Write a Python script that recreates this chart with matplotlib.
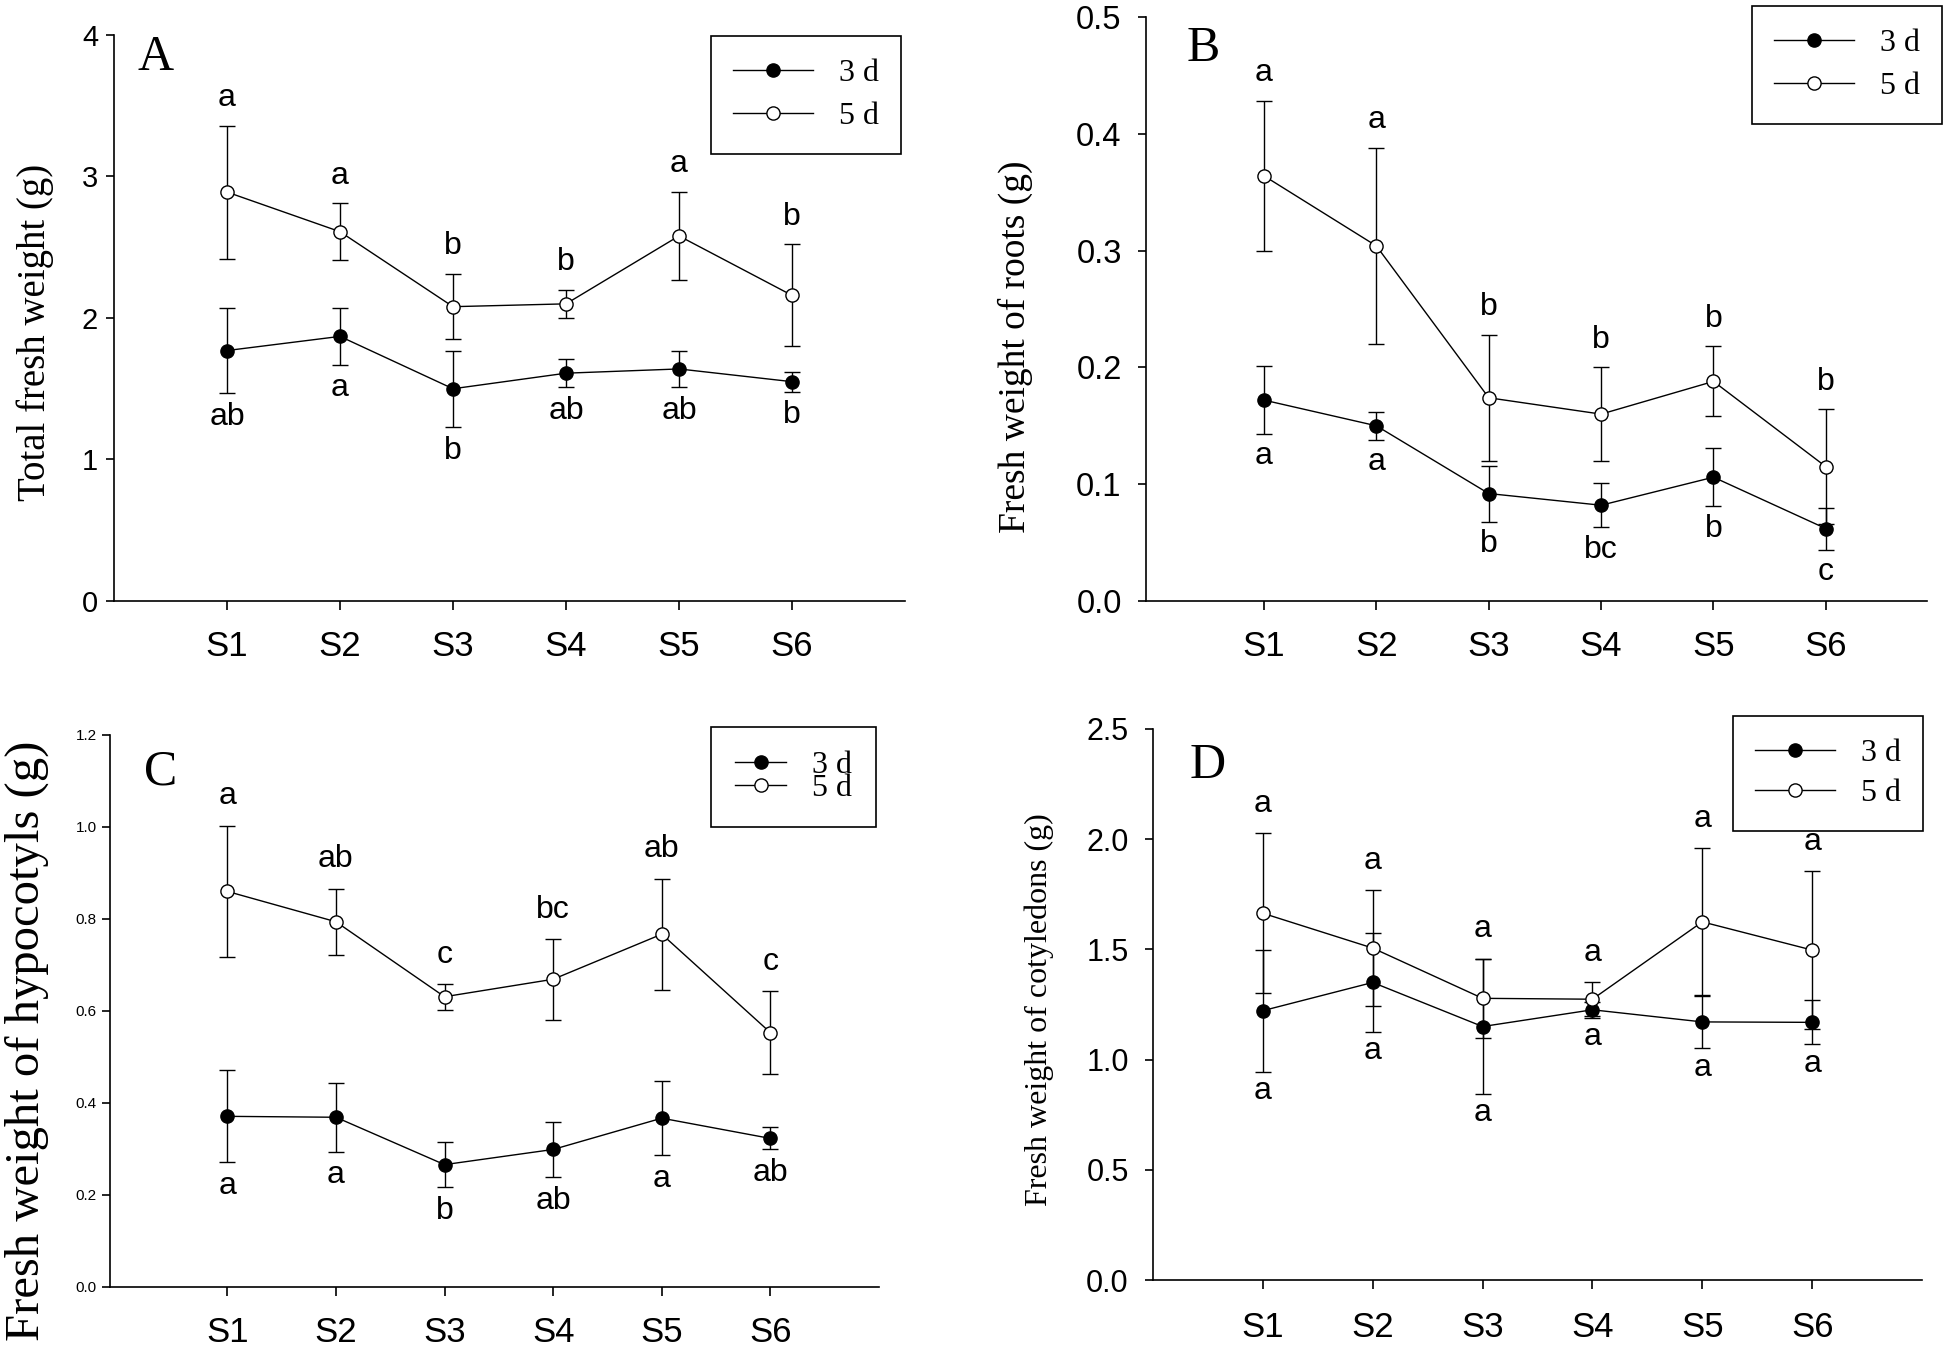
import matplotlib
matplotlib.use("Agg")
import matplotlib.pyplot as plt
from matplotlib import font_manager
import numpy as np

names = {f.name for f in font_manager.fontManager.ttflist}
SANS = 'Liberation Sans Narrow' if 'Liberation Sans Narrow' in names else 'Liberation Sans'
SERIF = 'Liberation Serif'

# ---------------- data ----------------
stages = ["S1", "S2", "S3", "S4", "S5", "S6"]

# Panel A: total fresh weight (g)
A_3d = [1.77, 1.87, 1.50, 1.61, 1.64, 1.55]
A_3d_err = [0.30, 0.20, 0.27, 0.10, 0.13, 0.07]
A_5d = [2.89, 2.61, 2.08, 2.10, 2.58, 2.16]
A_5d_err = [0.47, 0.20, 0.23, 0.10, 0.31, 0.36]
A_3d_let = ["ab", "a", "b", "ab", "ab", "b"]
A_5d_let = ["a", "a", "b", "b", "a", "b"]

# Panel B: fresh weight of roots (g)
B_3d = [0.172, 0.150, 0.092, 0.082, 0.106, 0.062]
B_3d_err = [0.029, 0.012, 0.024, 0.019, 0.025, 0.018]
B_5d = [0.364, 0.304, 0.174, 0.160, 0.188, 0.115]
B_5d_err = [0.064, 0.084, 0.054, 0.040, 0.030, 0.049]
B_3d_let = ["a", "a", "b", "bc", "b", "c"]
B_5d_let = ["a", "a", "b", "b", "b", "b"]

# Panel C: fresh weight of hypocotyls (g)
C_3d = [0.371, 0.369, 0.266, 0.299, 0.367, 0.323]
C_3d_err = [0.100, 0.075, 0.049, 0.060, 0.081, 0.024]
C_5d = [0.860, 0.794, 0.631, 0.669, 0.767, 0.553]
C_5d_err = [0.143, 0.072, 0.028, 0.088, 0.121, 0.091]
C_3d_let = ["a", "a", "b", "ab", "a", "ab"]
C_5d_let = ["a", "ab", "c", "bc", "ab", "c"]

# Panel D: fresh weight of cotyledons (g)
D_3d = [1.222, 1.350, 1.150, 1.226, 1.171, 1.169]
D_3d_err = [0.276, 0.224, 0.305, 0.035, 0.120, 0.100]
D_5d = [1.664, 1.506, 1.278, 1.274, 1.625, 1.497]
D_5d_err = [0.363, 0.263, 0.180, 0.078, 0.335, 0.357]
D_3d_let = ["a", "a", "a", "a", "a", "a"]
D_5d_let = ["a", "a", "a", "a", "a", "a"]

series_labels = ["3 d", "5 d"]

W, H = 1944, 1346
fig = plt.figure(figsize=(W / 100, H / 100), dpi=100)


def frac_rect(l, t, r, b):
    return [l / W, 1 - b / H, (r - l) / W, (b - t) / H]


panels = [
    dict(rect=frac_rect(114, 35, 905, 601), ylim=(0, 4), yticks=[0, 1, 2, 3, 4], yfmt="{:.0f}",
         xlim=(0, 7), d3=A_3d, e3=A_3d_err, d5=A_5d, e5=A_5d_err, l3=A_3d_let, l5=A_5d_let,
         ylabel="Total fresh weight (g)", ylab_pos=(35, 332), ylab_fs=28, ytick_fs=21, ypad=6, xpad=15,
         tag="A", tag_pos=(156, 58), up=20, down=17,
         leg=dict(pos=(711, 36), fs=23, spacing=0.45, bpad=0.7, hlen=2.5)),
    dict(rect=frac_rect(1146, 17, 1927, 601), ylim=(0, 0.5), yticks=[0, 0.1, 0.2, 0.3, 0.4, 0.5], yfmt="{:.1f}",
         xlim=(-0.05, 6.9), d3=B_3d, e3=B_3d_err, d5=B_5d, e5=B_5d_err, l3=B_3d_let, l5=B_5d_let,
         ylabel="Fresh weight of roots (g)", ylab_pos=(1015, 347), ylab_fs=27, ytick_fs=23.5, ypad=12, xpad=15,
         tag="B", tag_pos=(1203, 49), up=20, down=16,
         leg=dict(pos=(1752, 6), fs=23, spacing=0.45, bpad=0.7, hlen=2.5)),
    dict(rect=frac_rect(110, 735, 879, 1287), ylim=(0, 1.2), yticks=[0, 0.2, 0.4, 0.6, 0.8, 1.0, 1.2], yfmt="{:.1f}",
         xlim=(-0.08, 7), d3=C_3d, e3=C_3d_err, d5=C_5d, e5=C_5d_err, l3=C_3d_let, l5=C_5d_let,
         ylabel="Fresh weight of hypocotyls (g)", ylab_pos=(27, 1041), ylab_fs=35, ytick_fs=11, ypad=4, xpad=15,
         tag="C", tag_pos=(161, 772), up=21, down=17,
         leg=dict(pos=(711, 727), fs=23, spacing=-0.2, bpad=0.75, hlen=1.6)),
    dict(rect=frac_rect(1153, 729, 1922, 1280), ylim=(0, 2.5), yticks=[0, 0.5, 1.0, 1.5, 2.0, 2.5], yfmt="{:.1f}",
         xlim=(0, 7), d3=D_3d, e3=D_3d_err, d5=D_5d, e5=D_5d_err, l3=D_3d_let, l5=D_5d_let,
         ylabel="Fresh weight of cotyledons (g)", ylab_pos=(1039, 1010), ylab_fs=23, ytick_fs=22, ypad=12, xpad=16,
         tag="D", tag_pos=(1208, 766), up=21, down=14,
         leg=dict(pos=(1733, 716), fs=23, spacing=0.35, bpad=0.7, hlen=2.5)),
]

x = np.arange(1, len(stages) + 1)

for p in panels:
    ax = fig.add_axes(p["rect"])
    for sp in ["top", "right"]:
        ax.spines[sp].set_visible(False)
    for sp in ["left", "bottom"]:
        ax.spines[sp].set_linewidth(1.2)
    h3 = ax.errorbar(x, p["d3"], yerr=p["e3"], fmt="-o", color="black", mfc="black", mec="black",
                     ms=9.5, lw=1.0, elinewidth=1.0, capsize=6, capthick=1.0, zorder=3)
    h5 = ax.errorbar(x, p["d5"], yerr=p["e5"], fmt="-o", color="black", mfc="white", mec="black",
                     ms=9.5, lw=1.0, elinewidth=1.0, capsize=6, capthick=1.0, zorder=3)
    ax.set_xlim(*p["xlim"])
    ax.set_ylim(*p["ylim"])
    ax.set_xticks(x)
    ax.set_xticklabels(stages, family=SANS, fontsize=25)
    ax.set_yticks(p["yticks"])
    ax.set_yticklabels([p["yfmt"].format(v) for v in p["yticks"]], family=SANS, fontsize=p["ytick_fs"])
    ax.tick_params(axis="x", direction="out", length=6.2, width=1.2, pad=p["xpad"])
    ax.tick_params(axis="y", direction="out", length=5.5, width=1.2, pad=p["ypad"])

    # significance letters
    for xi, m, e, t in zip(x, p["d5"], p["e5"], p["l5"]):
        ax.annotate(t, (xi, m + e), xytext=(0, p["up"]), textcoords="offset points",
                    ha="center", va="center", family=SANS, fontsize=23)
    for xi, m, e, t in zip(x, p["d3"], p["e3"], p["l3"]):
        ax.annotate(t, (xi, m - e), xytext=(0, -p["down"]), textcoords="offset points",
                    ha="center", va="center", family=SANS, fontsize=23)

    fig.text(p["ylab_pos"][0] / W, 1 - p["ylab_pos"][1] / H, p["ylabel"], rotation=90,
             ha="center", va="center", family=SERIF, fontsize=p["ylab_fs"])
    fig.text(p["tag_pos"][0] / W, 1 - p["tag_pos"][1] / H, p["tag"],
             ha="center", va="center", family=SERIF, fontsize=36)

    lg = p["leg"]
    leg = ax.legend(handles=[h3.lines[0], h5.lines[0]], labels=series_labels, loc="upper left",
                    bbox_to_anchor=(lg["pos"][0] / W, 1 - lg["pos"][1] / H),
                    bbox_transform=fig.transFigure, borderaxespad=0, fancybox=False,
                    edgecolor="black", framealpha=1, handlelength=lg["hlen"], handletextpad=0.8,
                    labelspacing=lg["spacing"], borderpad=lg["bpad"],
                    prop=dict(family=SERIF, size=lg["fs"]))
    leg.get_frame().set_linewidth(1.2)

fig.savefig("out.png", dpi=100)
